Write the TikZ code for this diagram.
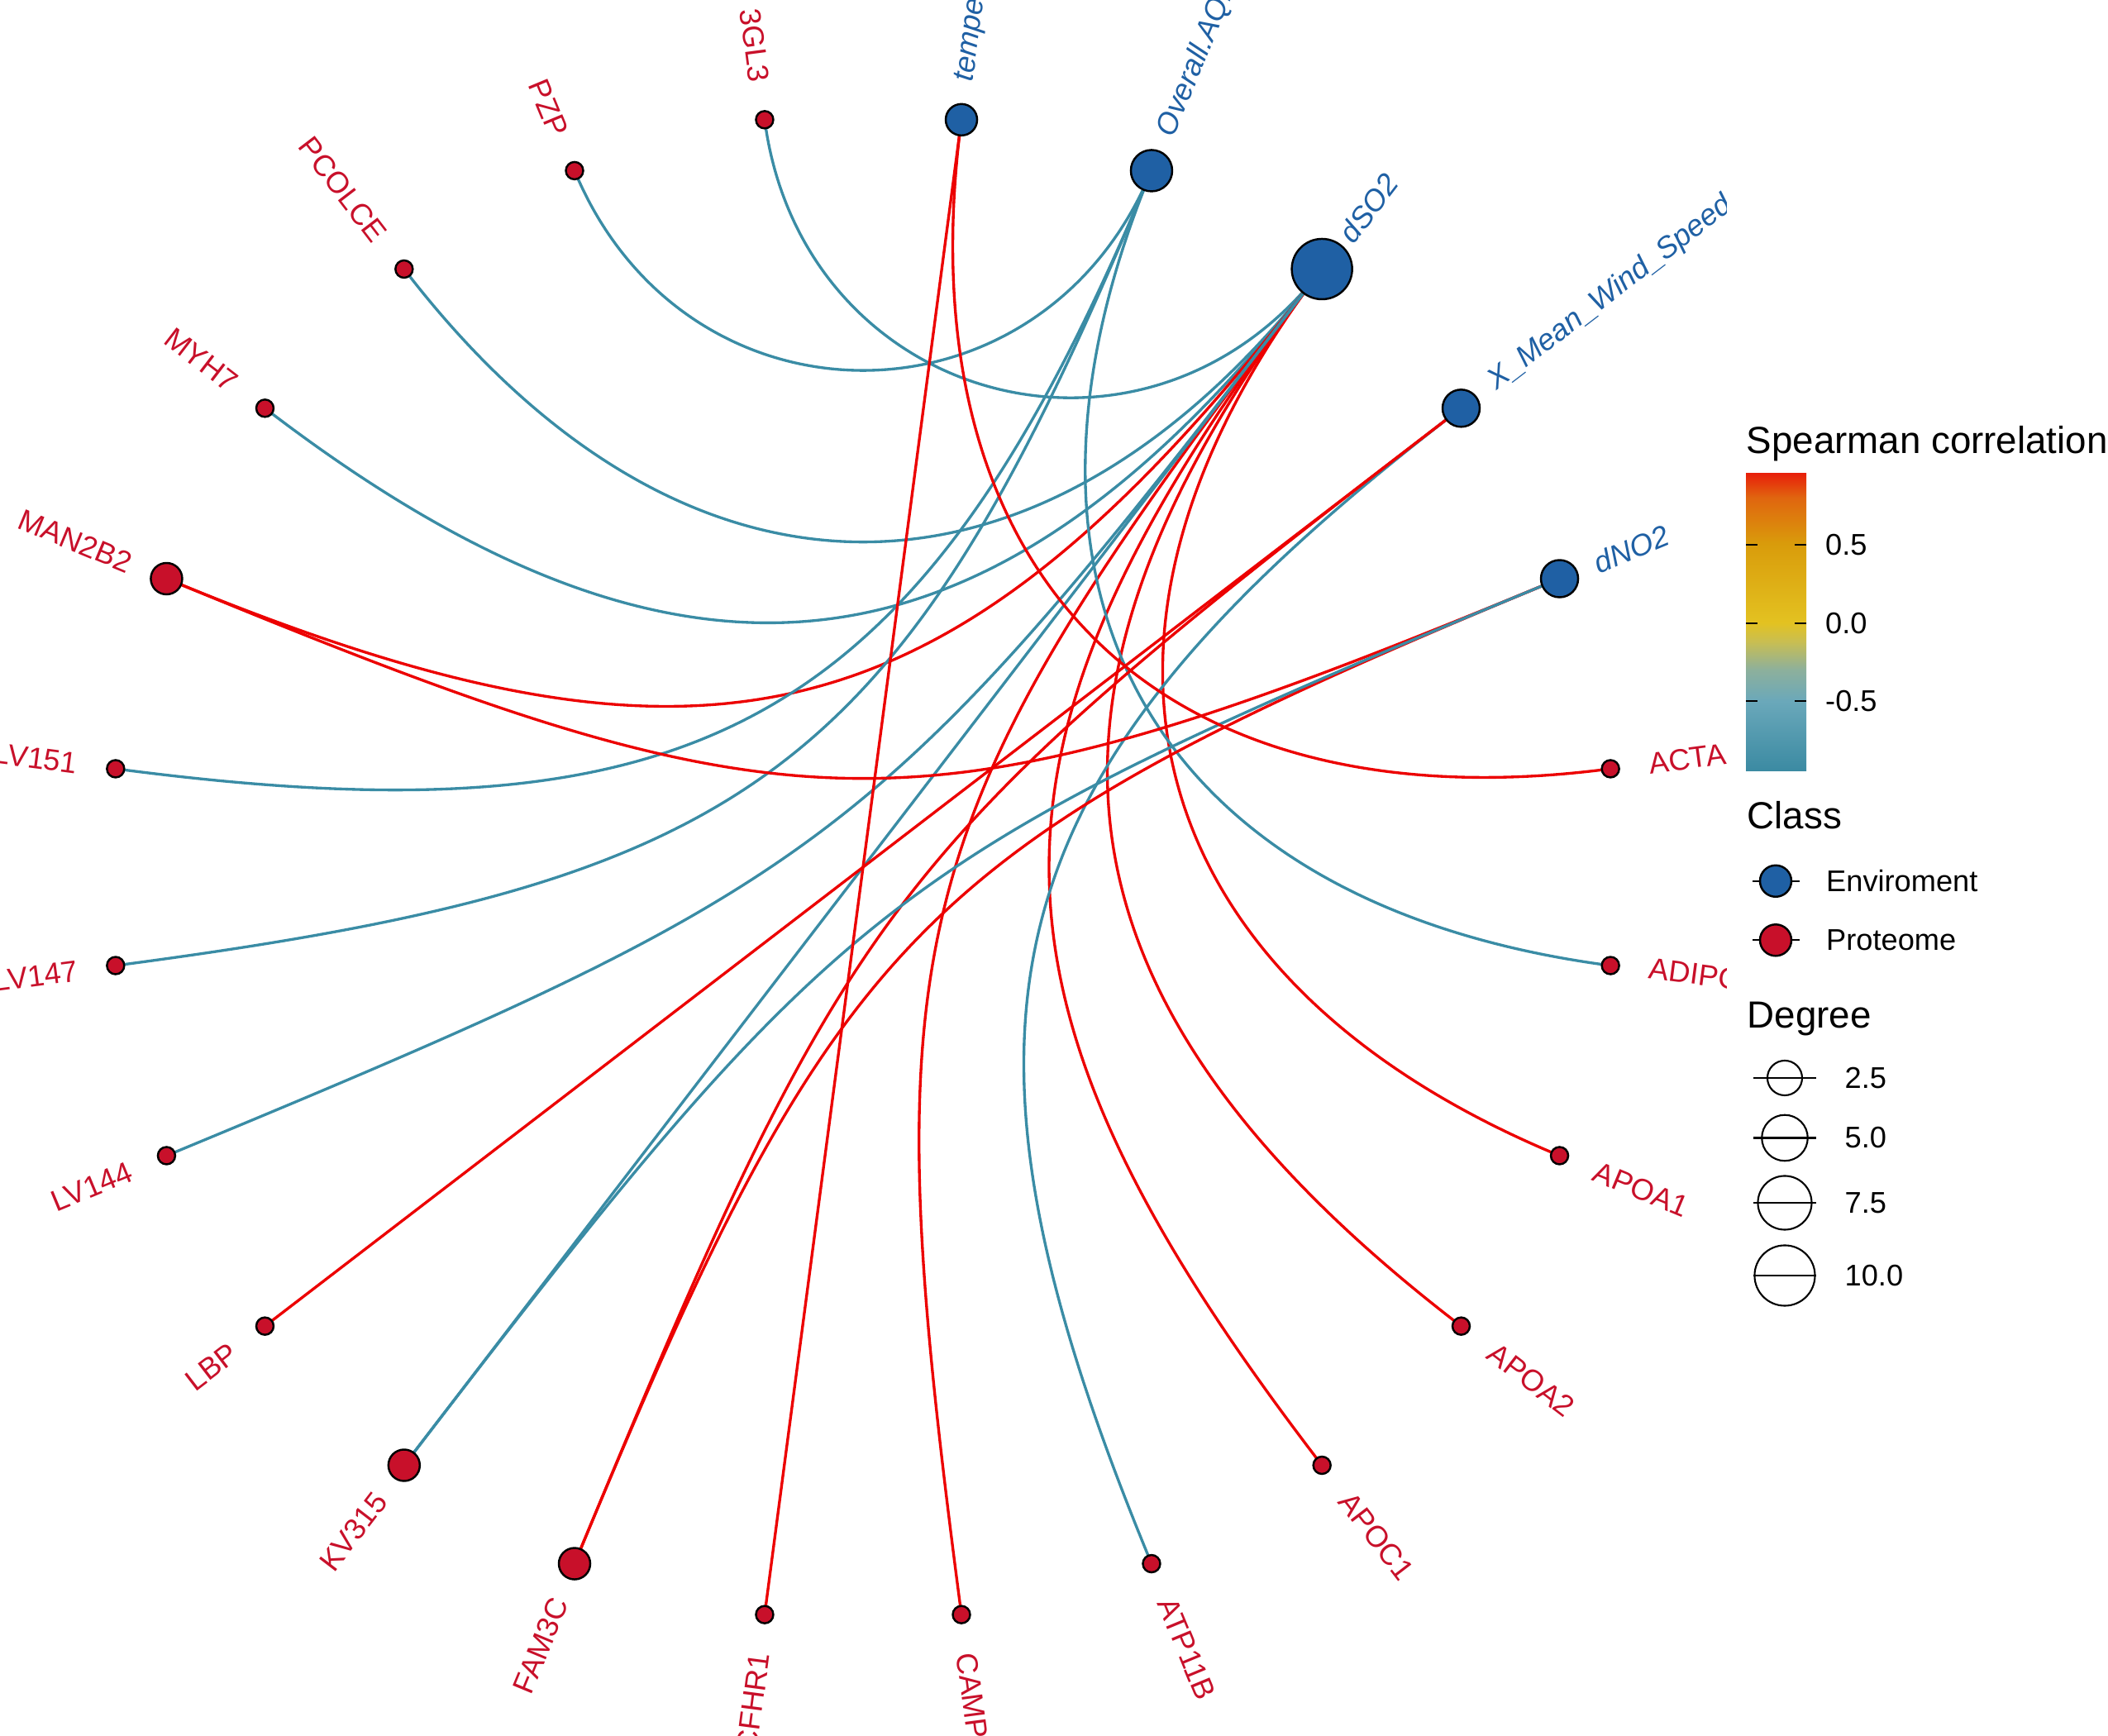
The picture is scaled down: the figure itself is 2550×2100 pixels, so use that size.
\documentclass[tikz,border=0pt]{standalone}
\usepackage{fontspec}
\setmainfont{Liberation Sans}
\usepackage{xcolor}
\usetikzlibrary{calc, backgrounds}
\definecolor{envblue}{HTML}{1F60A4}
\definecolor{protred}{HTML}{C8102A}
\definecolor{posred}{HTML}{EC0000}
\definecolor{negteal}{HTML}{3A8CA5}
\definecolor{barA}{HTML}{3B8AA2}
\definecolor{barB}{HTML}{6AA8BA}
\definecolor{barC}{HTML}{8DB09C}
\definecolor{barD}{HTML}{C8BE52}
\definecolor{barE}{HTML}{E3C221}
\definecolor{barF}{HTML}{D99C0B}
\definecolor{barG}{HTML}{E0650F}
\definecolor{barH}{HTML}{E8200A}
\pgfdeclareverticalshading{corrbar}{100bp}{color(0bp)=(barA); color(25bp)=(barA); color(36.7bp)=(barB); color(42bp)=(barC); color(46.7bp)=(barD); color(49.9bp)=(barE); color(63.1bp)=(barF); color(71bp)=(barG); color(75bp)=(barH); color(100bp)=(barH)}

\begin{document}
\begin{tikzpicture}[x=0.01cm, y=0.01cm,
  envnode/.style={circle, draw=black, line width=0.7pt, fill=envblue, inner sep=0pt, minimum size=#1},
  protnode/.style={circle, draw=black, line width=0.7pt, fill=protred, inner sep=0pt, minimum size=#1},
  degkey/.style={circle, draw=black, line width=0.6pt, inner sep=0pt, minimum size=#1},
  envlab/.style={text=envblue, font=\fontsize{10.3}{12}\selectfont\itshape, inner sep=0pt},
  protlab/.style={text=protred, font=\fontsize{10.3}{12}\selectfont, inner sep=0pt},
  poslink/.style={draw=posred, line width=0.95pt},
  neglink/.style={draw=negteal, line width=0.95pt},
  legtitle/.style={font=\fontsize{13}{15}\selectfont, anchor=base west, inner sep=0pt},
  legtext/.style={font=\fontsize{10.3}{12}\selectfont, anchor=west, inner sep=0pt}
]
\useasboundingbox (-1044,-1051) rectangle (1506,1049);
\coordinate (ctr) at (0,0);

\begin{scope}
  \clip (-1044,-1051) rectangle (1044,1049);
  % environment factors
  \foreach \nm/\ang/\dia/\lab in {temp/82.5/0.38cm/temperature, aqi/67.5/0.50cm/Overall.AQI,
      so2/52.5/0.73cm/dSO2, wind/37.5/0.45cm/X\_Mean\_Wind\_Speed, no2/22.5/0.45cm/dNO2}{
    \node[envnode=\dia] (\nm) at (\ang:912) {};
    \node[envlab, anchor=west, rotate=\ang] (\nm-lab) at (\ang:958) {\lab};
  }
  % proteins, right half
  \foreach \nm/\ang/\dia/\lab in {acta/7.5/0.21cm/ACTA, adipoq/-7.5/0.21cm/ADIPOQ, apoa1/-22.5/0.21cm/APOA1,
      apoa2/-37.5/0.21cm/APOA2, apoc1/-52.5/0.21cm/APOC1, atp11b/-67.5/0.21cm/ATP11B, camp/-82.5/0.21cm/CAMP}{
    \node[protnode=\dia] (\nm) at (\ang:912) {};
    \node[protlab, anchor=west, rotate=\ang] (\nm-lab) at (\ang:958) {\lab};
  }
  % proteins, left half
  \foreach \nm/\ang/\dia/\lab in {cfhr1/262.5/0.21cm/CFHR1, fam3c/247.5/0.38cm/FAM3C, kv315/232.5/0.38cm/KV315,
      lbp/217.5/0.21cm/LBP, lv144/202.5/0.21cm/LV144, lv147/187.5/0.21cm/LV147, lv151/172.5/0.21cm/LV151,
      man2b2/157.5/0.38cm/MAN2B2, myh7/142.5/0.21cm/MYH7, pcolce/127.5/0.21cm/PCOLCE, pzp/112.5/0.21cm/PZP,
      gl3/97.5/0.21cm/3GL3}{
    \node[protnode=\dia] (\nm) at (\ang:912) {};
    \node[protlab, anchor=east, rotate=\ang-180] (\nm-lab) at (\ang:958) {\lab};
  }
  % correlations, bent toward the centre
  \begin{scope}[on background layer]
    \foreach \ea/\eb/\es in {so2/gl3/neglink, so2/pcolce/neglink, so2/myh7/neglink, so2/man2b2/poslink,
        so2/apoa1/poslink, so2/apoa2/poslink, so2/apoc1/poslink, so2/camp/poslink, so2/kv315/neglink,
        so2/lv144/neglink, aqi/pzp/neglink, aqi/adipoq/neglink, aqi/lv151/neglink, aqi/lv147/neglink,
        wind/lbp/poslink, wind/atp11b/neglink, wind/fam3c/poslink, no2/man2b2/poslink, no2/fam3c/poslink,
        no2/kv315/neglink, temp/cfhr1/poslink, temp/acta/poslink}
      \draw[\es] let \p1=($(\ea.center)-(\eb.center)$), \n1={scalar(1-0.5*veclen(\x1,\y1)/259.49)} in
        (\ea.center) .. controls ($(ctr)!\n1!(\ea.center)$) and ($(ctr)!\n1!(\eb.center)$) .. (\eb.center);
  \end{scope}
\end{scope}

% legend
\node[legtitle] (corr-title) at (1068,500) {Spearman correlation};
\shade[shading=corrbar] (1068,116.5) rectangle (1141,476);
\foreach \yy/\val [count=\i] in {390/0.5, 295.4/0.0, 200.7/-0.5}{
  \draw[line width=0.6pt] (1068,\yy) -- ++(14,0) (1127,\yy) -- ++(14,0);
  \node[legtext] (tick\i) at (1163.5,\yy) {\val};
}
\node[legtitle] (class-title) at (1069,46.4) {Class};
\foreach \yy/\cls/\lab/\nm in {-16.8/envnode/Enviroment/env, -88.3/protnode/Proteome/prot}{
  \draw[line width=0.6pt] (1076,\yy) -- (1133,\yy);
  \node[\cls=0.38cm] (key-\nm) at (1104,\yy) {};
  \node[legtext] (key-\nm-lab) at (1164.5,\yy) {\lab};
}
\node[legtitle] (deg-title) at (1069,-194.2) {Degree};
\foreach \yy/\dia/\lab [count=\i] in {-255/0.42cm/2.5, -327.5/0.555cm/5.0, -406/0.65cm/7.5, -494/0.73cm/10.0}{
  \node[degkey=\dia] (deg\i) at (1115,\yy) {};
  \draw[line width=0.6pt] (1077,\yy) -- (1153,\yy);
  \node[legtext] (deg\i-lab) at (1187,\yy) {\lab};
}
\end{tikzpicture}
\end{document}
